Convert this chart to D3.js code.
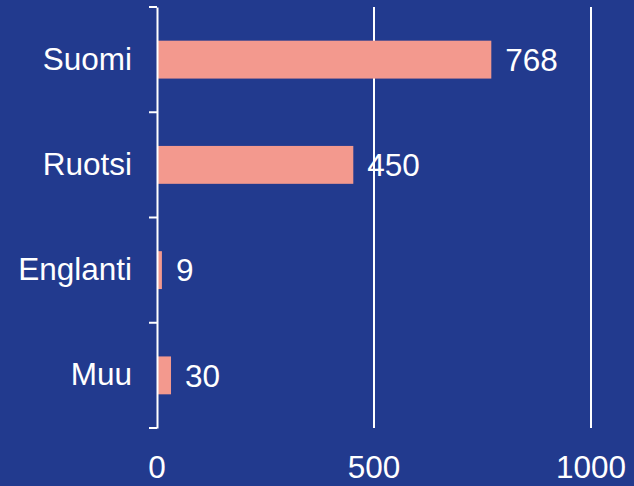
<!DOCTYPE html>
<html>
<head>
<meta charset="utf-8">
<script src="https://cdn.jsdelivr.net/npm/d3@7"></script>
<style>
  html, body { margin: 0; padding: 0; background: #223a8e; }
  svg { display: block; }
  text { font-family: "Liberation Sans", Arial, sans-serif; fill: #ffffff; }
</style>
</head>
<body>
<svg id="chart" width="634" height="486"></svg>
<script>
// Language distribution
const categories = ["Suomi", "Ruotsi", "Englanti", "Muu"];
const values = [768, 450, 9, 30];
const xTicks = [0, 500, 1000];

const W = 634, H = 486;
const margin = { top: 7, left: 157, right: 43, bottom: 58 };
const fontSize = 31.5;

const svg = d3.select("#chart");
svg.append("rect").attr("width", W).attr("height", H).attr("fill", "#223a8e");

const x = d3.scaleLinear().domain([0, 1000]).range([margin.left, W - margin.right]);
const y = d3.scaleBand().domain(categories).range([margin.top, H - margin.bottom])
  .paddingInner(0.64).paddingOuter(0.32);
const band = d3.scaleBand().domain(categories).range([margin.top, H - margin.bottom]);

// vertical gridlines
svg.append("g").selectAll("line").data(xTicks.filter(d => d > 0)).join("line")
  .attr("x1", d => x(d)).attr("x2", d => x(d))
  .attr("y1", margin.top).attr("y2", H - margin.bottom)
  .attr("stroke", "#ffffff").attr("stroke-width", 2);

// bars
svg.append("g").selectAll("rect").data(values).join("rect")
  .attr("x", x(0) + 1)
  .attr("y", (d, i) => y(categories[i]))
  .attr("width", d => x(d) - x(0))
  .attr("height", y.bandwidth())
  .attr("fill", "#f3998e");

// value labels
svg.append("g").selectAll("text").data(values).join("text")
  .attr("x", d => x(d) + 15)
  .attr("y", (d, i) => y(categories[i]) + y.bandwidth() / 2)
  .attr("dy", "0.36em")
  .attr("font-size", fontSize)
  .text(d => d);

// left category axis
const yAxis = d3.axisLeft(band).tickSize(0).tickPadding(25).tickSizeOuter(0);
const gy = svg.append("g").attr("transform", `translate(${x(0)},0)`).call(yAxis);
gy.select(".domain").attr("stroke", "#ffffff").attr("stroke-width", 2);
gy.selectAll("text").attr("font-size", fontSize).attr("fill", "#ffffff")
  .attr("font-family", "Liberation Sans, Arial, sans-serif");

// category boundary ticks
const bounds = categories.map(c => band(c)).concat([band.range()[1]]);
svg.append("g").selectAll("line").data(bounds).join("line")
  .attr("x1", x(0) - 8).attr("x2", x(0))
  .attr("y1", d => d).attr("y2", d => d)
  .attr("stroke", "#ffffff").attr("stroke-width", 2);

// bottom tick labels
svg.append("g").selectAll("text").data(xTicks).join("text")
  .attr("x", d => x(d))
  .attr("y", 478)
  .attr("text-anchor", "middle")
  .attr("font-size", fontSize)
  .text(d => d);
</script>
</body>
</html>
